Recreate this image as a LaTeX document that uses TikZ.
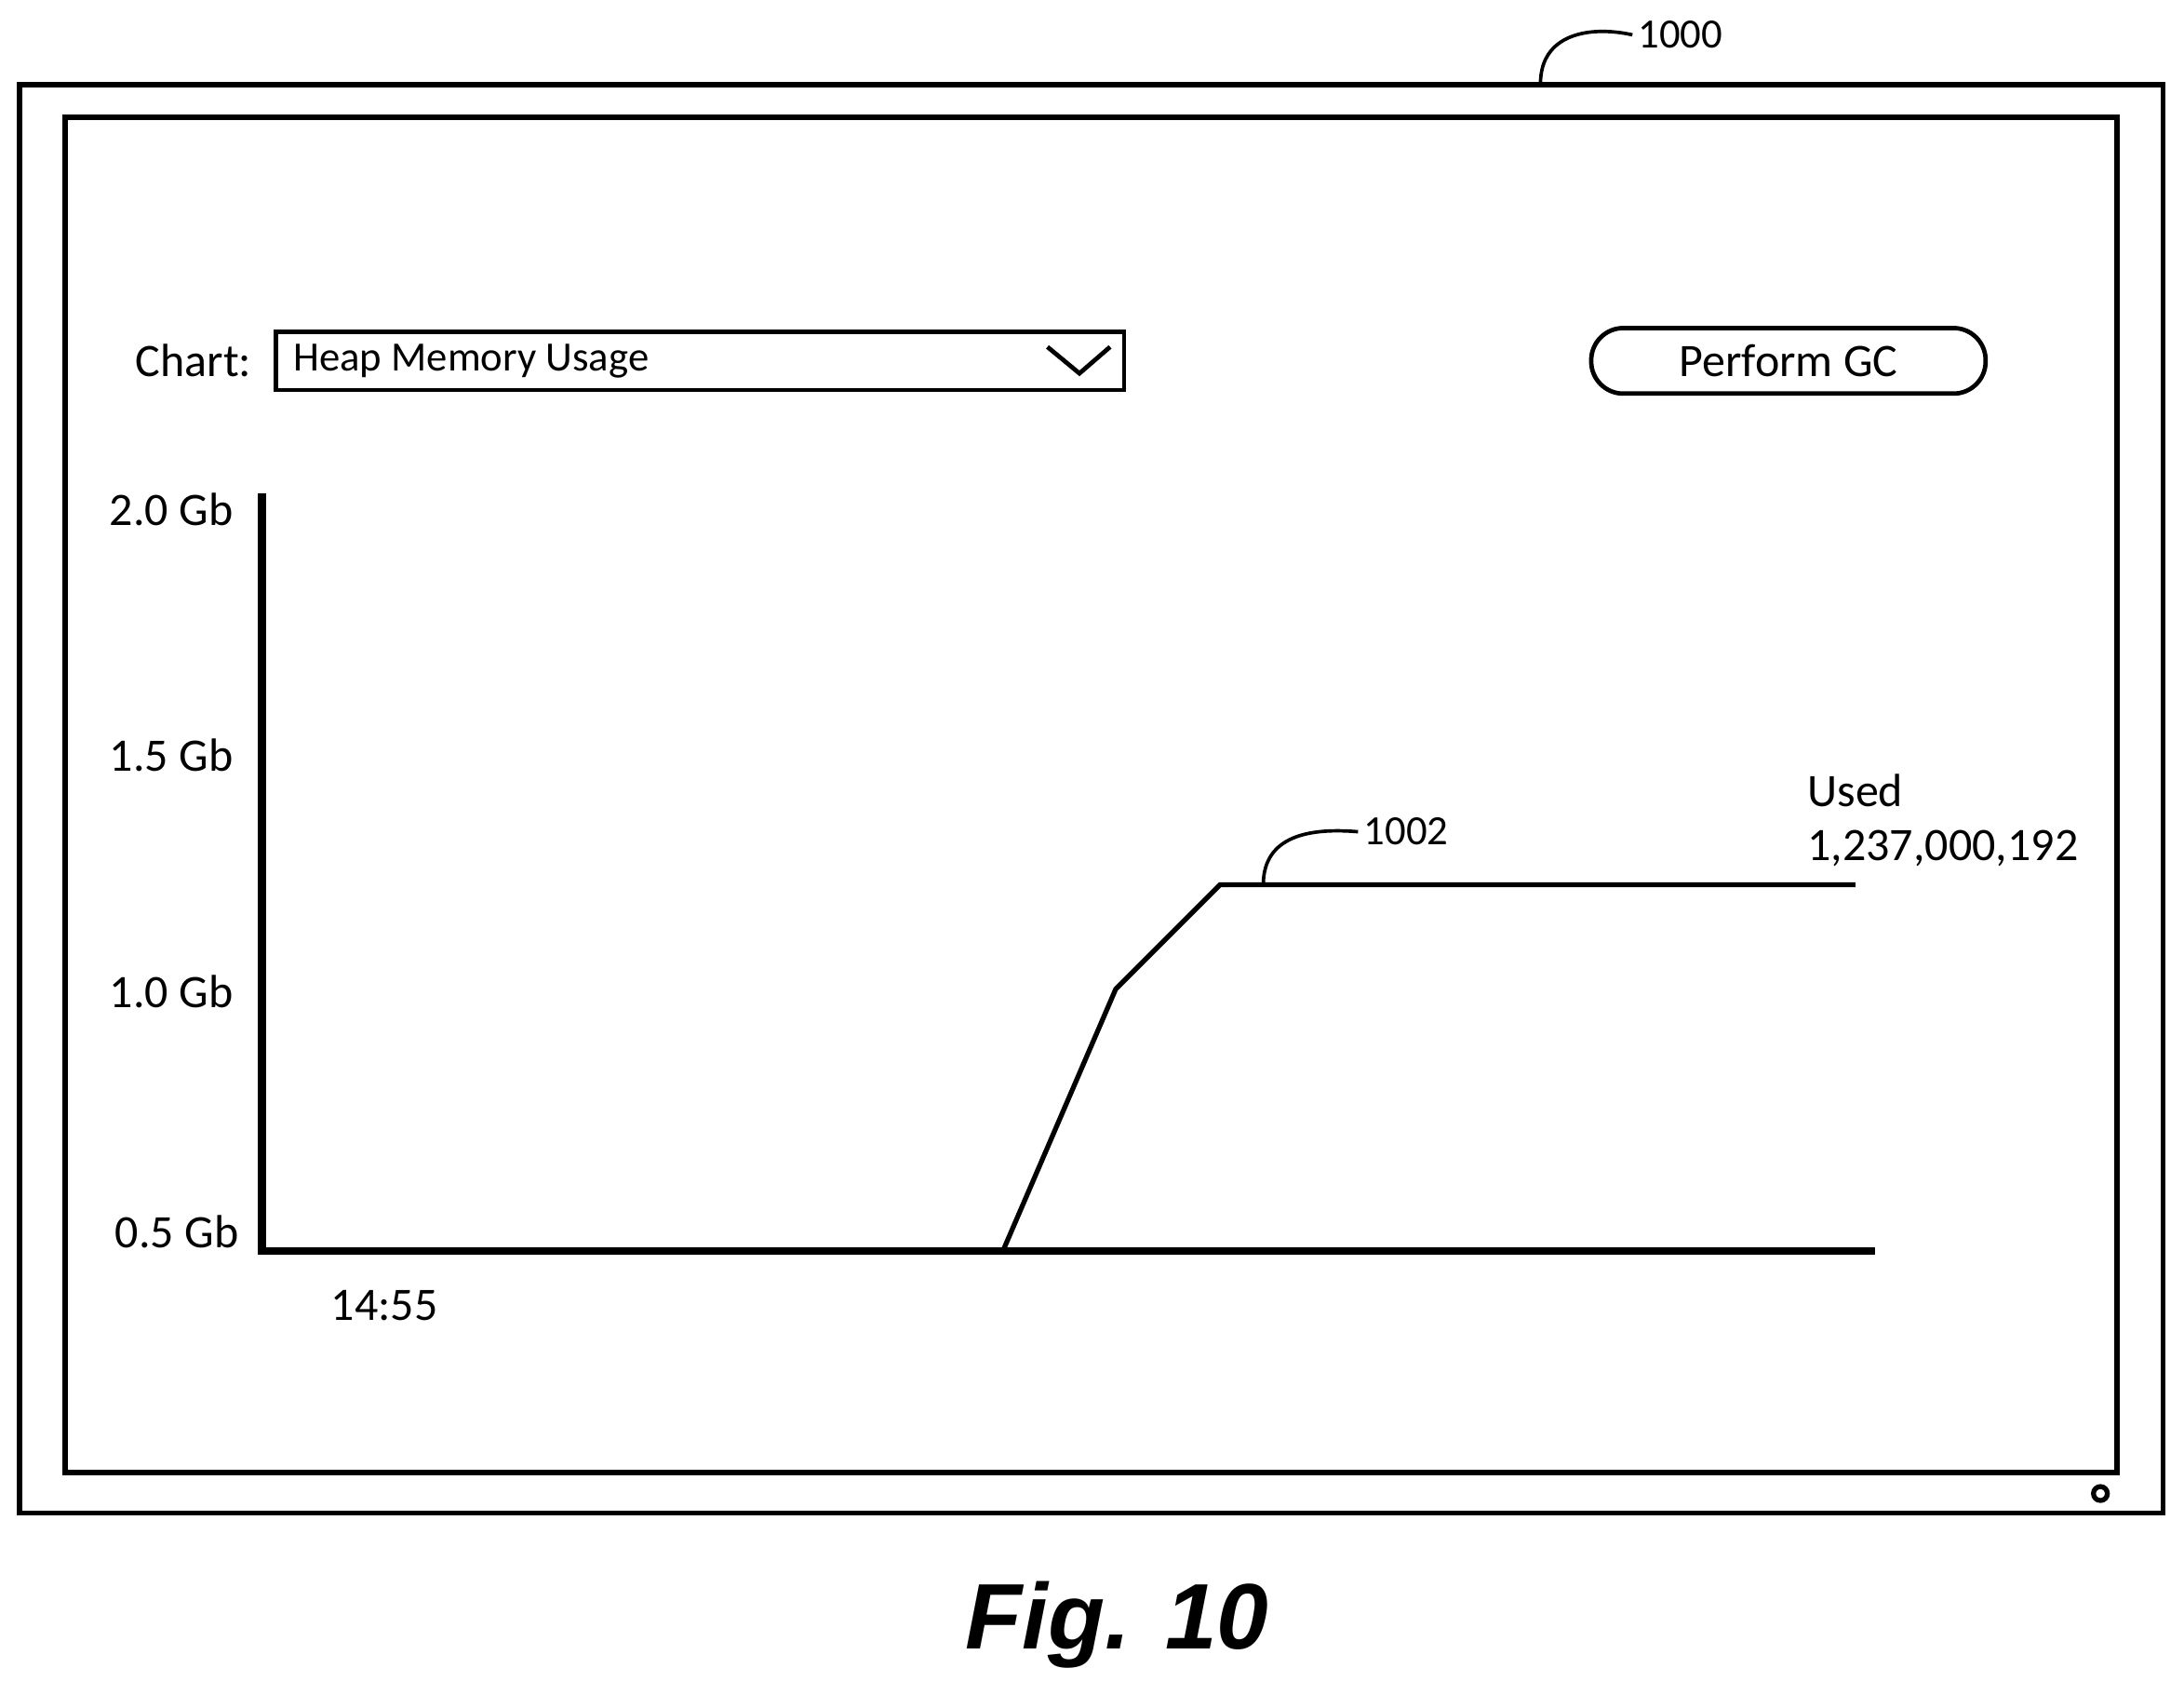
\documentclass[tikz,border=0pt]{standalone}
\usepackage{fontspec}
\setmainfont{Carlito}
\newfontfamily\figfont{Liberation Sans}
\usetikzlibrary{positioning}

\begin{document}
\begin{tikzpicture}[
x=0.01cm, y=-0.01cm,
font=\fontsize{9.5pt}{11pt}\selectfont,
frame/.style={draw=black, line width=1.1pt},
axis/.style={line width=1.6pt},
curve/.style={line width=1pt},
refnum/.style={font=\fontsize{8.5pt}{10pt}\selectfont, inner sep=1pt},
leader/.style={line width=0.7pt},
label/.style={inner sep=0pt},
]
\useasboundingbox (0,0) rectangle (1568,1216);

% screen
\draw[frame] (14,61) rectangle (1553,1086);
\draw[frame] (47,84) rectangle (1520,1057);
\draw[line width=1pt] (1508,1072) circle (5);

\node[refnum, anchor=west] (ref1000) at (1172,25) {1000};
\coordinate (tip1000) at (1106,60);
\draw[leader] (tip1000) .. controls (1106,25) and (1140,18) .. (ref1000.west);

% controls
\node[label] (chart) at (139,259) {Chart:};
\draw[line width=0.9pt] (198,238) rectangle (807,280);
\node[label, anchor=west, font=\fontsize{8.5pt}{10pt}\selectfont] (heap) at (210,259) {Heap Memory Usage};
\draw[line width=0.9pt] (752,249) -- (775,268) -- (797,249);
\node[draw, line width=0.9pt, rounded corners=0.23cm, minimum width=2.83cm, minimum height=0.47cm] (gc) at (1284,259) {Perform GC};

% axes
\coordinate (origin) at (188,898);
\draw[axis] (188,354) -- (origin) -- (1346,898);
\node[label] (y20) at (123,366) {2.0 Gb};
\node[label] (y15) at (123,542) {1.5 Gb};
\node[label] (y10) at (123,712) {1.0 Gb};
\node[label] (y05) at (127,884) {0.5 Gb};
\node[label] (time) at (276,937) {14:55};

% usage curve
\draw[curve] (720,898) -- (801,710) -- (876,635) -- (1332,635);
\node[refnum, anchor=west] (ref1002) at (975,597) {1002};
\coordinate (tip1002) at (907,635);
\draw[leader] (tip1002) .. controls (907,600) and (940,594) .. (ref1002.west);
\node[label, anchor=west, align=left] (used) at (1297,589) {Used\\1,237,000,192};

\node[font=\figfont\fontsize{19pt}{22pt}\selectfont\bfseries\itshape] (fig) at (802,1166) {Fig. 10};
\end{tikzpicture}
\end{document}
